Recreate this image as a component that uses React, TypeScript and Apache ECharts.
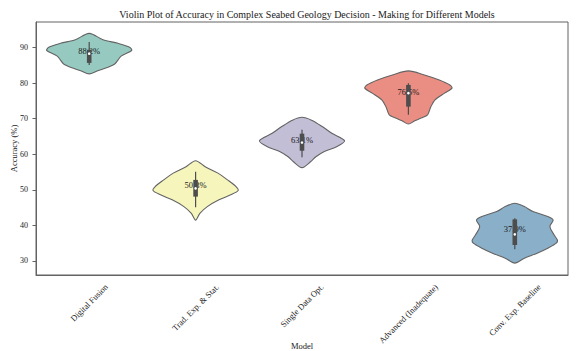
import React, { useEffect, useRef } from "react";
import * as echarts from "echarts";

// Model categories and the value printed on each violin
const models = [
  "Digital Fusion",
  "Trad. Exp. & Stat.",
  "Single Data Opt.",
  "Advanced (Inadequate)",
  "Conv. Exp. Baseline",
];
const meanAccuracy = [88.2, 50.3, 63.1, 76.5, 37.9];

// Violin outlines: accuracy levels (top to bottom) and half-width of the
// density at each level, as a fraction of the category band
const digitalFusionLevels = [94.0, 92.2, 91.2, 90.1, 89.2, 87.6, 86.5, 85.4, 84.4, 83.5, 82.6];
const digitalFusionWidths = [0, 0.13, 0.27, 0.38, 0.4, 0.3, 0.27, 0.24, 0.17, 0.08, 0];
const tradExpLevels = [58.2, 56.5, 54.7, 52.8, 50.9, 49.8, 48.6, 47.2, 45.3, 43.4, 41.5];
const tradExpWidths = [0, 0.09, 0.21, 0.3, 0.38, 0.4, 0.33, 0.22, 0.11, 0.04, 0];
const singleDataLevels = [70.4, 69.6, 67.8, 65.9, 63.8, 62.2, 60.8, 59.3, 57.9, 56.25];
const singleDataWidths = [0, 0.09, 0.19, 0.28, 0.4, 0.33, 0.21, 0.13, 0.08, 0];
const advancedLevels = [83.45, 82.3, 80.9, 79.5, 78.6, 77.2, 75.3, 73.3, 71.1, 70.2, 69.4, 68.5];
const advancedWidths = [0, 0.15, 0.29, 0.39, 0.41, 0.34, 0.25, 0.21, 0.18, 0.12, 0.06, 0];
const convExpLevels = [46.25, 45.3, 43.9, 42.5, 41.5, 39.7, 37.3, 35.9, 35.0, 33.6, 32.2, 30.8, 29.4];
const convExpWidths = [0, 0.09, 0.17, 0.31, 0.36, 0.33, 0.37, 0.4, 0.39, 0.31, 0.21, 0.09, 0];

const violinLevels = [digitalFusionLevels, tradExpLevels, singleDataLevels, advancedLevels, convExpLevels];
const violinWidths = [digitalFusionWidths, tradExpWidths, singleDataWidths, advancedWidths, convExpWidths];

// Inner box statistics
const whiskerHigh = [91.6, 55.1, 66.9, 80.0, 42.0];
const quartile3 = [89.4, 52.8, 65.8, 79.5, 41.7];
const medianAccuracy = [88.3, 50.4, 63.3, 77.2, 37.5];
const quartile1 = [85.7, 48.1, 61.0, 73.4, 34.5];
const whiskerLow = [85.1, 45.1, 59.2, 71.1, 33.3];

const violinColors = ["#96cac1", "#f5f5bc", "#c1bed6", "#ea8d83", "#8aafc8"];

const yTicks = [30, 40, 50, 60, 70, 80, 90];
const yMin = 26.06;
const yMax = 97.2;

const FONT = "'Liberation Serif', 'Times New Roman', serif";
const LINE = "#636363";
const TEXT = "#1a1a1a";

let measureCtx: CanvasRenderingContext2D | null = null;
function textWidth(text: string, size: number): number {
  if (!measureCtx) {
    const c = document.createElement("canvas");
    measureCtx = c.getContext("2d");
  }
  if (!measureCtx) return text.length * size * 0.45;
  measureCtx.font = `${size}px ${FONT}`;
  return measureCtx.measureText(text).width;
}

export default function App() {
  const ref = useRef<HTMLDivElement>(null);

  useEffect(() => {
    if (!ref.current) return;
    const chart = echarts.init(ref.current, null, { renderer: "svg" });

    const violinSeries = {
      type: "custom",
      data: models.map((_, i) => [i, medianAccuracy[i]]),
      encode: { x: 0, y: 1 },
      z: 3,
      renderItem: (params: any, api: any) => {
        const i = params.dataIndex;
        const band = api.size([1, 0])[0];
        const levels = violinLevels[i];
        const widths = violinWidths[i];
        const left: number[][] = [];
        const right: number[][] = [];
        for (let k = 0; k < levels.length; k++) {
          const c = api.coord([i, levels[k]]);
          left.push([c[0] - widths[k] * band, c[1]]);
          right.push([c[0] + widths[k] * band, c[1]]);
        }
        const points = left.concat(right.slice(1, -1).reverse());
        const center = api.coord([i, meanAccuracy[i]]);
        const hi = api.coord([i, whiskerHigh[i]]);
        const lo = api.coord([i, whiskerLow[i]]);
        const q3 = api.coord([i, quartile3[i]]);
        const q1 = api.coord([i, quartile1[i]]);
        const med = api.coord([i, medianAccuracy[i]]);
        return {
          type: "group",
          children: [
            {
              type: "polygon",
              shape: { points, smooth: 0.3 },
              style: { fill: violinColors[i], stroke: LINE, lineWidth: 1.1 },
            },
            {
              type: "text",
              x: center[0],
              y: center[1] + 1,
              style: {
                text: meanAccuracy[i].toFixed(1) + "%",
                fill: TEXT,
                font: `8.5px ${FONT}`,
                align: "center",
                verticalAlign: "bottom",
              },
            },
            {
              type: "line",
              shape: { x1: hi[0], y1: hi[1], x2: lo[0], y2: lo[1] },
              style: { stroke: "#4d4d4d", lineWidth: 1.2 },
            },
            {
              type: "rect",
              shape: { x: q3[0] - 2.3, y: q3[1], width: 4.6, height: q1[1] - q3[1] },
              style: { fill: "#4d4d4d" },
            },
            {
              type: "circle",
              shape: { cx: med[0], cy: med[1], r: 1.3 },
              style: { fill: "#ffffff" },
            },
          ],
        };
      },
    };

    // Rotated category labels, centred under each tick
    const labelSeries = {
      type: "custom",
      data: models.map((_, i) => [i, yMin]),
      encode: { x: 0, y: 1 },
      z: 5,
      silent: true,
      renderItem: (params: any, api: any) => {
        const i = params.dataIndex;
        const p = api.coord([i, yMin]);
        const size = 8.5;
        const w = textWidth(models[i], size);
        const h = size * 1.15;
        const half = ((w + h) * Math.SQRT1_2) / 2;
        return {
          type: "text",
          x: p[0],
          y: p[1] + 7 + half,
          rotation: Math.PI / 4,
          style: {
            text: models[i],
            fill: TEXT,
            font: `${size}px ${FONT}`,
            align: "center",
            verticalAlign: "middle",
          },
        };
      },
    };

    chart.setOption({
      animation: false,
      title: {
        text: "Violin Plot of Accuracy in Complex Seabed Geology Decision - Making for Different Models",
        left: 302,
        textAlign: "center",
        top: 4,
        textStyle: { fontFamily: FONT, fontSize: 10, fontWeight: "normal", color: TEXT },
      },
      grid: {
        left: 36,
        right: 12,
        top: 22,
        bottom: 76,
        outerBoundsMode: "none",
        containLabel: false,
        show: true,
        borderColor: LINE,
        borderWidth: 1,
        backgroundColor: "transparent",
      },
      xAxis: {
        type: "category",
        data: models,
        name: "Model",
        nameLocation: "middle",
        nameGap: 66,
        nameMoveOverlap: false,
        nameTextStyle: { fontFamily: FONT, fontSize: 8.5, color: TEXT },
        axisLine: { lineStyle: { color: LINE, width: 1 } },
        axisTick: { alignWithLabel: true, length: 3.5, lineStyle: { color: LINE } },
        axisLabel: { show: false },
        splitLine: { show: false },
      },
      yAxis: {
        type: "value",
        min: yMin,
        max: yMax,
        name: "Accuracy (%)",
        nameLocation: "middle",
        nameGap: 18,
        nameMoveOverlap: false,
        nameTextStyle: { fontFamily: FONT, fontSize: 8.5, color: TEXT },
        axisLine: { show: true, lineStyle: { color: LINE, width: 1 } },
        axisTick: { show: true, length: 3.5, customValues: yTicks, lineStyle: { color: LINE } },
        axisLabel: {
          customValues: yTicks,
          margin: 8,
          fontFamily: FONT,
          fontSize: 8,
          color: TEXT,
        },
        splitLine: { show: false },
      },
      series: [violinSeries, labelSeries],
    });

    return () => chart.dispose();
  }, []);

  return (
    <div
      ref={ref}
      style={{ position: "fixed", left: 0, top: 0, width: 580, height: 351, background: "#ffffff" }}
    />
  );
}
